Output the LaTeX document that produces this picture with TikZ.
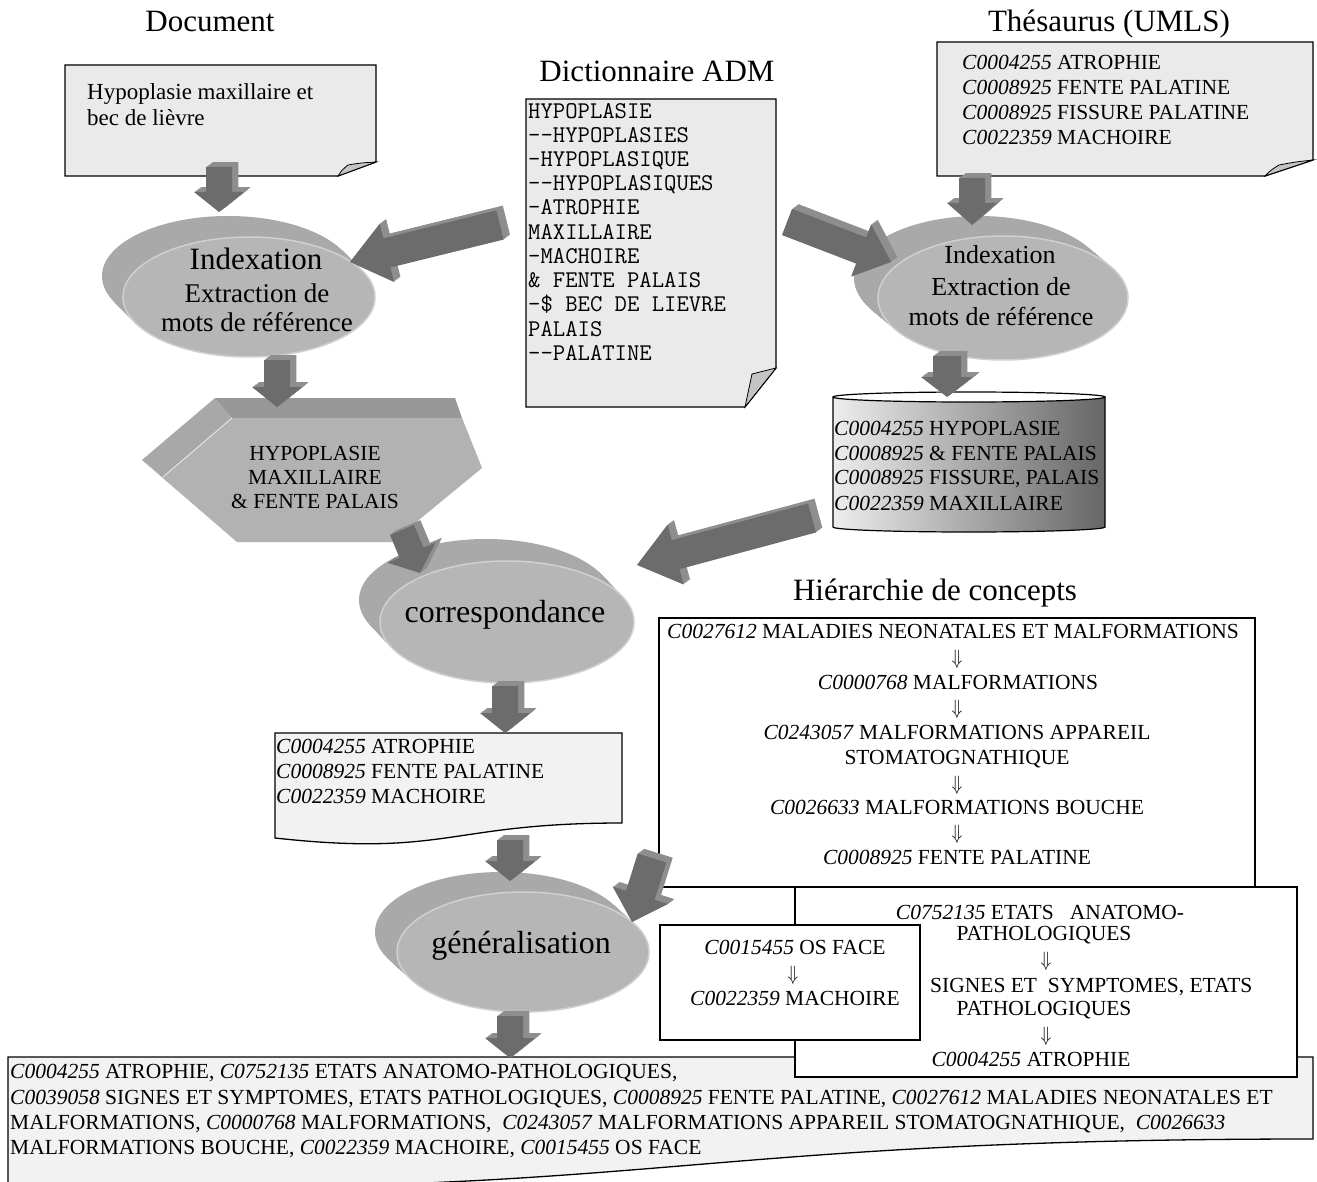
\documentclass[tikz,border=0pt]{standalone}
\usepackage{fontspec}
\setmainfont{Liberation Serif}
\usetikzlibrary{calc,shapes.geometric}
\definecolor{docfill}{HTML}{EAEAEA}
\definecolor{flapfill}{HTML}{C4C4C4}
\definecolor{resfill}{HTML}{F2F2F2}
\definecolor{arrfront}{HTML}{6C6C6C}
\definecolor{arrside}{HTML}{8E8E8E}
\definecolor{ellfront}{HTML}{B6B6B6}
\definecolor{ellside}{HTML}{A9A9A9}
\definecolor{ellrim}{HTML}{D0D0D0}
\definecolor{hexfront}{HTML}{B2B2B2}
\definecolor{hextop}{HTML}{979797}
\definecolor{hexside}{HTML}{A8A8A8}
\definecolor{cylL}{HTML}{EDEDED}
\definecolor{cylR}{HTML}{666666}
\newcommand\myfs[2]{\fontsize{#1}{#2}\selectfont}
\newcommand\cid[1]{\textit{#1}}
\newcommand\dnarr{\scalebox{0.85}[1]{$\Downarrow$}}
% 3D block arrow: tail, tip, shaft half width, head half width, head length
\newcommand\barrow[5]{%
  \path ($(#2)!#5!(#1)$) coordinate (bh);
  \path ($(#1)!#3!90:(#2)$) coordinate (b1)
        ($(bh)!#3!90:(#2)$) coordinate (b2)
        ($(bh)!#4!90:(#2)$) coordinate (b3)
        ($(bh)!#4!-90:(#2)$) coordinate (b5)
        ($(bh)!#3!-90:(#2)$) coordinate (b6)
        ($(#1)!#3!-90:(#2)$) coordinate (b7);
  \foreach \s in {8,7,...,1}{%
    \fill[arrside] ($(b1)+(0.8*\s,-0.6*\s)$) -- ($(b2)+(0.8*\s,-0.6*\s)$) -- ($(b3)+(0.8*\s,-0.6*\s)$)
      -- ($(#2)+(0.8*\s,-0.6*\s)$) -- ($(b5)+(0.8*\s,-0.6*\s)$) -- ($(b6)+(0.8*\s,-0.6*\s)$)
      -- ($(b7)+(0.8*\s,-0.6*\s)$) -- cycle;}
  \fill[arrfront] (b1) -- (b2) -- (b3) -- (#2) -- (b5) -- (b6) -- (b7) -- cycle;
}
% 3D ellipse: name, cx, cy, rx, ry, dx, dy
\newcommand\ellthreed[7]{%
  \foreach \t in {1,0.96,...,0}{%
    \fill[ellside] ({#2+\t*(#6)},{#3+\t*(#7)}) ellipse [x radius=#4, y radius=#5];}
  \node[ellipse, fill=ellfront, draw=ellrim, line width=1.5pt, inner sep=0pt,
        minimum width=2*#4, minimum height=2*#5] (#1) at (#2,#3) {};
}
\begin{document}
\begin{tikzpicture}[x=1pt,y=-1pt,
  title/.style={font=\myfs{31}{36}, inner sep=0pt, anchor=base},
  txt/.style={font=\myfs{21.5}{25}, inner sep=0pt, anchor=base west},
  ctxt/.style={font=\myfs{21.5}{25}, inner sep=0pt, anchor=base},
  arr/.style={font=\myfs{20.74}{22}, inner sep=0pt, anchor=center},
  mono/.style={font=\ttfamily\myfs{24}{24}, inner sep=0pt, anchor=base west},
  docbox/.style={fill=docfill, draw=black, line width=1.3pt},
  flap/.style={fill=flapfill, draw=black, line width=0.8pt},
  plainbox/.style={fill=white, draw=black, line width=1.3pt},
  resbox/.style={fill=resfill, draw=black, line width=1.3pt},
]
\useasboundingbox (0,0) rectangle (1317,1182);
\fill[white] (0,0) rectangle (1317,1182);

% titles
\node[title] (tDoc) at (210,32) {Document};
\node[title] (tDict) at (657,82) {Dictionnaire ADM};
\node[title] (tThes) at (1109,32) {Thésaurus (UMLS)};
\node[title] (tHier) at (935,600) {Hiérarchie de concepts};

% document box
\draw[docbox] (65,65) -- (376,65) -- (376,162) -- (338,176) -- (65,176) -- cycle;
\draw[flap] (338,176) .. controls (342,170) .. (348,165) .. controls (360,163) .. (376,162) -- cycle;
\node[txt, font=\myfs{23}{26}] (doc1) at (87,100) {Hypoplasie maxillaire et};
\node[txt, font=\myfs{23}{26}] (doc2) at (87,126) {bec de lièvre};
\coordinate (docS) at (220,167);

% dictionary box
\draw[docbox] (526,99) -- (776,99) -- (776,368) -- (745,407) -- (526,407) -- cycle;
\draw[flap] (745,407) .. controls (748,390) .. (752,374) .. controls (764,371) .. (776,368) -- cycle;
\node[mono] (d1) at (528,119) {HYPOPLASIE};
\node[mono] (d2) at (528,143) {--HYPOPLASIES};
\node[mono] (d3) at (528,167) {-HYPOPLASIQUE};
\node[mono] (d4) at (528,191) {--HYPOPLASIQUES};
\node[mono] (d5) at (528,215) {-ATROPHIE};
\node[mono] (d6) at (528,240) {MAXILLAIRE};
\node[mono] (d7) at (528,264) {-MACHOIRE};
\node[mono] (d8) at (528,288) {\&{} FENTE PALAIS};
\node[mono] (d9) at (528,312) {-\${} BEC DE LIEVRE};
\node[mono] (d10) at (528,336) {PALAIS};
\node[mono] (d11) at (528,360) {--PALATINE};
\coordinate (dictW) at (500,225);
\coordinate (dictE) at (787,222);

% thesaurus box
\draw[docbox] (937,42) -- (1313,42) -- (1313,160) -- (1265,176) -- (937,176) -- cycle;
\draw[flap] (1265,176) .. controls (1271,170) .. (1279,165) .. controls (1295,162) .. (1313,160) -- cycle;
\node[txt] (th1) at (962,70) {\cid{C0004255} ATROPHIE};
\node[txt] (th2) at (962,95) {\cid{C0008925} FENTE PALATINE};
\node[txt] (th3) at (962,120) {\cid{C0008925} FISSURE PALATINE};
\node[txt] (th4) at (962,145) {\cid{C0022359} MACHOIRE};
\coordinate (thesS) at (972,178);

% ellipses
\ellthreed{idxL}{249}{297}{126}{60}{-21}{-21}
\node[title, font=\myfs{31}{36}] (idxL1) at (256,270) {Indexation};
\node[title, font=\myfs{27}{31}] (idxL2) at (257,302) {Extraction de};
\node[title, font=\myfs{27}{31}] (idxL3) at (257,331) {mots de référence};

\ellthreed{idxR}{1003}{298}{125}{62}{-24}{-20}
\node[title, font=\myfs{26}{31}] (idxR1) at (1000,264) {Indexation};
\node[title, font=\myfs{26}{31}] (idxR2) at (1001,296) {Extraction de};
\node[title, font=\myfs{26}{31}] (idxR3) at (1001,326) {mots de référence};

\ellthreed{corr}{507}{622}{127}{61}{-21}{-22}
\node[title, font=\myfs{32}{36}] (corrT) at (505,622) {correspondance};

\ellthreed{gen}{523}{952}{126}{60}{-22}{-20}
\node[title, font=\myfs{32}{36}] (genT) at (521,953) {généralisation};

% hexagon
\fill[hexside] (142,460) -- (215,398) -- (232,418) -- (163,477) -- cycle;
\fill[hexside] (142,460) -- (163,477) -- (237,542) -- cycle;
\fill[hextop] (215,398) -- (455,398) -- (462,418) -- (232,418) -- cycle;
\fill[hexfront] (163,477) -- (232,418) -- (462,418) -- (482,468) -- (392,542) -- (237,542) -- cycle;
\draw[white!85!gray, line width=0.8pt] (163,477) -- (232,418);
\node[ctxt] (hx1) at (315,460) {HYPOPLASIE};
\node[ctxt] (hx2) at (315,484) {MAXILLAIRE};
\node[ctxt] (hx3) at (315,508) {\& FENTE PALAIS};

% cylinder
\shade[left color=cylL, right color=cylR] (833,397) -- (833,527) arc[start angle=180, end angle=0, x radius=136, y radius=5] -- (1105,397) -- cycle;
\draw[line width=1.2pt] (833,397) -- (833,527) arc[start angle=180, end angle=0, x radius=136, y radius=5] -- (1105,397);
\draw[fill=white, line width=1.2pt] (969,397) ellipse [x radius=136, y radius=5];
\node[txt] (cy1) at (834,435) {\cid{C0004255} HYPOPLASIE};
\node[txt] (cy2) at (834,460) {\cid{C0008925} \& FENTE PALAIS};
\node[txt] (cy3) at (834,484) {\cid{C0008925} FISSURE, PALAIS};
\node[txt] (cy4) at (834,510) {\cid{C0022359} MAXILLAIRE};

% result box
\draw[resbox] (275,733) -- (622,733) -- (622,823) .. controls (448,823) and (448,857) .. (275,838) -- cycle;
\node[txt] (r1) at (276,753) {\cid{C0004255} ATROPHIE};
\node[txt] (r2) at (276,778) {\cid{C0008925} FENTE PALATINE};
\node[txt] (r3) at (276,803) {\cid{C0022359} MACHOIRE};

% hierarchy box 1
\draw[plainbox] (659,618) rectangle (1255,887);
\node[ctxt] (h1) at (953,638) {\cid{C0027612} MALADIES NEONATALES ET MALFORMATIONS};
\node[arr] (ha1) at (957,659) {\dnarr};
\node[ctxt] (h2) at (958,689) {\cid{C0000768} MALFORMATIONS};
\node[arr] (ha2) at (957,709) {\dnarr};
\node[ctxt] (h3) at (957,739) {\cid{C0243057} MALFORMATIONS APPAREIL};
\node[ctxt] (h4) at (957,764) {STOMATOGNATHIQUE};
\node[arr] (ha3) at (957,785) {\dnarr};
\node[ctxt] (h5) at (957,814) {\cid{C0026633} MALFORMATIONS BOUCHE};
\node[arr] (ha4) at (957,834) {\dnarr};
\node[ctxt] (h6) at (957,864) {\cid{C0008925} FENTE PALATINE};
\coordinate (hierW) at (652,858);

% bottom box
\draw[resbox] (8,1057) -- (1313,1057) -- (1313,1139) .. controls (660,1139) and (660,1200) .. (8,1185) -- cycle;
\node[txt] (b1t) at (10,1078) {\cid{C0004255} ATROPHIE, \cid{C0752135} ETATS ANATOMO-PATHOLOGIQUES,};
\node[txt] (b2t) at (10,1104) {\cid{C0039058} SIGNES ET SYMPTOMES, ETATS PATHOLOGIQUES, \cid{C0008925} FENTE PALATINE, \cid{C0027612} MALADIES NEONATALES ET};
\node[txt] (b3t) at (10,1129) {MALFORMATIONS, \cid{C0000768} MALFORMATIONS, \ \cid{C0243057} MALFORMATIONS APPAREIL STOMATOGNATHIQUE, \ \cid{C0026633}};
\node[txt] (b4t) at (10,1154) {MALFORMATIONS BOUCHE, \cid{C0022359} MACHOIRE, \cid{C0015455} OS FACE};

% hierarchy box 2
\draw[plainbox] (795,887) rectangle (1297,1077);
\node[ctxt] (k1) at (1040,919) {\cid{C0752135} ETATS\ \ \ ANATOMO-};
\node[ctxt] (k2) at (1044,940) {PATHOLOGIQUES};
\node[arr] (ka1) at (1046,961) {\dnarr};
\node[txt] (k3) at (930,992) {SIGNES ET\ \ SYMPTOMES, ETATS};
\node[ctxt] (k4) at (1044,1015) {PATHOLOGIQUES};
\node[arr] (ka2) at (1046,1036) {\dnarr};
\node[ctxt] (k5) at (1031,1066) {\cid{C0004255} ATROPHIE};

% hierarchy box 3
\draw[plainbox] (660,925) rectangle (920,1040);
\node[ctxt] (m1) at (795,954) {\cid{C0015455} OS FACE};
\node[arr] (ma1) at (793,975) {\dnarr};
\node[ctxt] (m2) at (795,1005) {\cid{C0022359} MACHOIRE};

% arrow endpoints
\coordinate (a1s) at (219,167);  \coordinate (a1e) at (219,212);
\coordinate (a2s) at (277,360);  \coordinate (a2e) at (277,407);
\coordinate (a3e) at (350,262);
\coordinate (a4e) at (891,262);
\coordinate (a5e) at (972,225);
\coordinate (a6s) at (947,356);  \coordinate (a6e) at (947,397);
\coordinate (a7s) at (812,518);  \coordinate (a7e) at (637,565);
\coordinate (a8s) at (402,530);  \coordinate (a8e) at (420,573);
\coordinate (a9s) at (505,686);  \coordinate (a9e) at (505,733);
\coordinate (a10s) at (510,840); \coordinate (a10e) at (510,881);
\coordinate (a11e) at (632,922);
\coordinate (a12s) at (510,1016); \coordinate (a12e) at (510,1058);

% 3D arrows
\barrow{a1s}{a1e}{13pt}{25pt}{20pt}
\barrow{a2s}{a2e}{13pt}{25pt}{20pt}
\barrow{dictW}{a3e}{15pt}{30pt}{38pt}
\barrow{dictE}{a4e}{14pt}{28pt}{32pt}
\barrow{thesS}{a5e}{13pt}{25pt}{22pt}
\barrow{a6s}{a6e}{14pt}{26pt}{20pt}
\barrow{a7s}{a7e}{15pt}{31pt}{40pt}
\barrow{a8s}{a8e}{13pt}{26pt}{22pt}
\barrow{a9s}{a9e}{13pt}{25pt}{20pt}
\barrow{a10s}{a10e}{13pt}{25pt}{20pt}
\barrow{hierW}{a11e}{15pt}{29pt}{28pt}
\barrow{a12s}{a12e}{13pt}{25pt}{20pt}
\end{tikzpicture}
\end{document}
